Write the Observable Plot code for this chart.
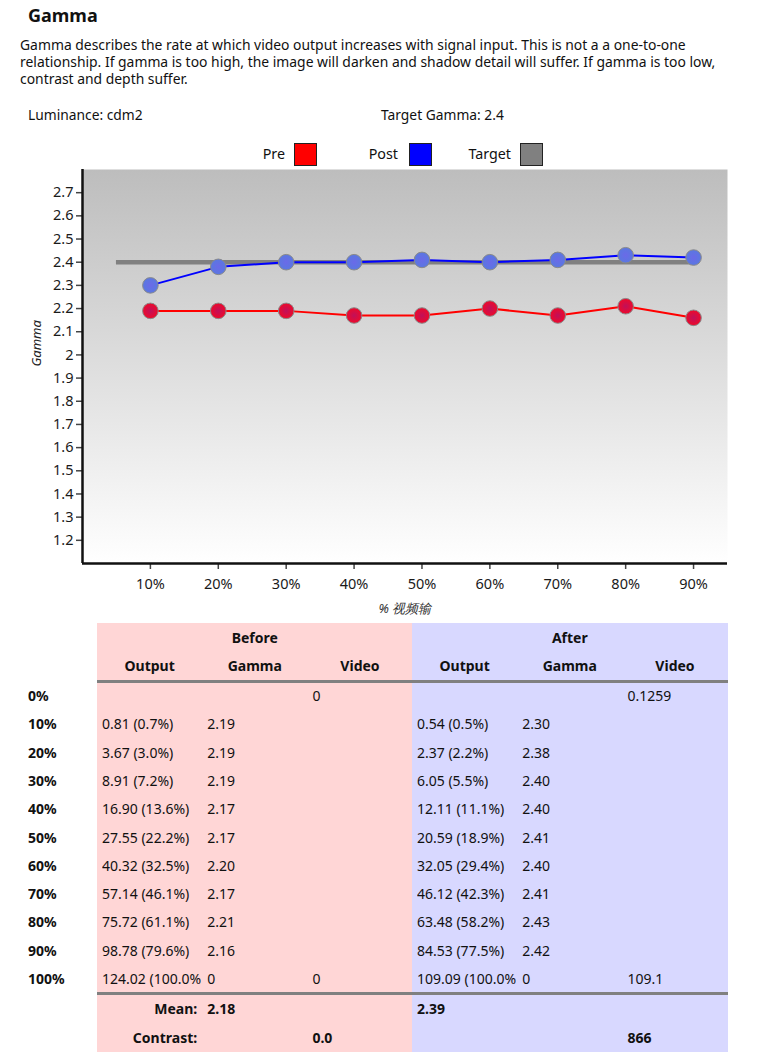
<!DOCTYPE html>
<html>
<head>
<meta charset="utf-8">
<script src="https://cdn.jsdelivr.net/npm/d3@7"></script>
<script src="https://cdn.jsdelivr.net/npm/@observablehq/plot@0.6"></script>
<style>
  html, body { margin:0; padding:0; background:#fff; }
  body { position:relative; width:757px; height:1061px; overflow:hidden; font-family:"Noto Sans", "Open Sans", sans-serif; color:#111; }
  .abs { position:absolute; white-space:nowrap; }
  .sw { position:absolute; width:21px; height:21px; border:1px solid #222; }
  .cell { position:absolute; white-space:nowrap; overflow:hidden; font-size:14px; line-height:20px; height:20px; }
  .b { font-weight:bold; }
</style>
</head>
<body>
<div class="abs b" style="left:28px; top:3px; font-size:18px;">Gamma</div>
<div class="abs" id="desc" style="left:20px; top:36px; font-size:13.9px; line-height:17px;"></div>
<div class="abs" style="left:28px; top:105px; font-size:13.8px;">Luminance: cdm2</div>
<div class="abs" style="left:381px; top:105px; font-size:13.8px;">Target Gamma: 2.4</div>
<div id="legend"></div>
<div id="chart" class="abs" style="left:0; top:160px;"></div>
<div id="table"></div>
<script>
// ---------- data ----------
const descLines = [
  "Gamma describes the rate at which video output increases with signal input. This is not a a one-to-one",
  "relationship. If gamma is too high, the image will darken and shadow detail will suffer. If gamma is too low,",
  "contrast and depth suffer."
];
const levels = [10, 20, 30, 40, 50, 60, 70, 80, 90];
const preGamma = [2.19, 2.19, 2.19, 2.17, 2.17, 2.20, 2.17, 2.21, 2.16];
const postGamma = [2.30, 2.38, 2.40, 2.40, 2.41, 2.40, 2.41, 2.43, 2.42];
const targetGamma = 2.4;
const targetSpan = [5, 90];
const yTicks = [1.2, 1.3, 1.4, 1.5, 1.6, 1.7, 1.8, 1.9, 2.0, 2.1, 2.2, 2.3, 2.4, 2.5, 2.6, 2.7];
const legendNames = ["Pre", "Post", "Target"];
const legendColors = ["#ff0000", "#0000ff", "#808080"];

const rowLabels = ["0%", "10%", "20%", "30%", "40%", "50%", "60%", "70%", "80%", "90%", "100%"];
const beforeOutput = ["", "0.81 (0.7%)", "3.67 (3.0%)", "8.91 (7.2%)", "16.90 (13.6%)", "27.55 (22.2%)", "40.32 (32.5%)", "57.14 (46.1%)", "75.72 (61.1%)", "98.78 (79.6%)", "124.02 (100.0%)"];
const beforeGamma = ["", "2.19", "2.19", "2.19", "2.17", "2.17", "2.20", "2.17", "2.21", "2.16", "0"];
const beforeVideo = ["0", "", "", "", "", "", "", "", "", "", "0"];
const afterOutput = ["", "0.54 (0.5%)", "2.37 (2.2%)", "6.05 (5.5%)", "12.11 (11.1%)", "20.59 (18.9%)", "32.05 (29.4%)", "46.12 (42.3%)", "63.48 (58.2%)", "84.53 (77.5%)", "109.09 (100.0%)"];
const afterGamma = ["", "2.30", "2.38", "2.40", "2.40", "2.41", "2.40", "2.41", "2.43", "2.42", "0"];
const afterVideo = ["0.1259", "", "", "", "", "", "", "", "", "", "109.1"];
const groupNames = ["Before", "After"];
const colNames = ["Output", "Gamma", "Video"];
const meanBefore = "2.18", meanAfter = "2.39";
const contrastBefore = "0.0", contrastAfter = "866";

// ---------- description ----------
document.getElementById("desc").innerHTML = descLines.join("<br>");

// ---------- legend ----------
const lg = document.getElementById("legend");
const legendTextRight = [285, 398, 511];
const legendSwLeft = [294, 409, 520];
legendNames.forEach((n, i) => {
  const t = document.createElement("div");
  t.className = "abs";
  t.style.cssText = `right:${757 - legendTextRight[i]}px; top:144px; font-size:14.3px;`;
  t.textContent = n;
  lg.appendChild(t);
  const s = document.createElement("div");
  s.className = "sw";
  s.style.cssText = `left:${legendSwLeft[i]}px; top:143px; background:${legendColors[i]};`;
  lg.appendChild(s);
});

// ---------- chart ----------
const preData = levels.map((x, i) => ({x, y: preGamma[i]}));
const postData = levels.map((x, i) => ({x, y: postGamma[i]}));

const chart = Plot.plot({
  width: 757,
  height: 470,
  marginLeft: 82,
  marginRight: 30,
  marginTop: 9,
  marginBottom: 67,
  style: {fontFamily: "'Noto Sans', sans-serif", fontSize: "14.5px", color: "#1a1a1a", background: "transparent"},
  x: {domain: [0, 95], ticks: levels, tickFormat: d => d + "%", tickSize: 6, tickPadding: 9, label: null},
  y: {domain: [1.1, 2.8], ticks: yTicks, tickFormat: d => String(+d.toFixed(1)), tickSize: 6, tickPadding: 3, label: null},
  marks: [
    Plot.frame({fill: "url(#bg)", stroke: "none"}),
    Plot.ruleY([targetGamma], {x1: targetSpan[0], x2: targetSpan[1], stroke: "#808080", strokeWidth: 4.5}),
    Plot.line(postData, {x: "x", y: "y", stroke: "#0000ff", strokeWidth: 2}),
    Plot.line(preData, {x: "x", y: "y", stroke: "#ff0000", strokeWidth: 2}),
    Plot.dot(postData, {x: "x", y: "y", r: 7.8, fill: "url(#gpost)", stroke: "#8a8a8a", strokeWidth: 1}),
    Plot.dot(preData, {x: "x", y: "y", r: 7.8, fill: "url(#gpre)", stroke: "#8a8a8a", strokeWidth: 1}),
    Plot.ruleX([0], {stroke: "#111", strokeWidth: 2.5}),
    Plot.ruleY([1.1], {stroke: "#111", strokeWidth: 2.5}),
    Plot.text(["Gamma"], {frameAnchor: "left", rotate: -90, dx: -46, fontStyle: "italic", fontSize: 13, fill: "#222"}),
    Plot.text(["% 视频输"], {frameAnchor: "bottom", dy: 49, fontStyle: "italic", fontSize: 13, fill: "#333"})
  ]
});
d3.select(chart).insert("defs", ":first-child").html(`
  <linearGradient id="bg" x1="0" y1="0" x2="0" y2="1">
    <stop offset="0" stop-color="#bdbdbd"/>
    <stop offset="1" stop-color="#ffffff"/>
  </linearGradient>
  <radialGradient id="gpre" cx="0.5" cy="0.5" r="0.5">
    <stop offset="0" stop-color="#c0105a"/>
    <stop offset="1" stop-color="#ee0a2a"/>
  </radialGradient>
  <radialGradient id="gpost" cx="0.5" cy="0.5" r="0.5">
    <stop offset="0" stop-color="#6a6ae8"/>
    <stop offset="1" stop-color="#5a78e0"/>
  </radialGradient>`);
d3.select(chart).selectAll("g[aria-label='x-axis tick'] path, g[aria-label='y-axis tick'] path").attr("stroke", "#444").attr("stroke-width", 1.5);
document.getElementById("chart").appendChild(chart);

// ---------- table ----------
const tb = document.getElementById("table");
function box(l, t, w, h, bg) {
  const d = document.createElement("div");
  d.style.cssText = `position:absolute; left:${l}px; top:${t}px; width:${w}px; height:${h}px; background:${bg};`;
  tb.appendChild(d);
}
function cell(text, left, cy, opts = {}) {
  const d = document.createElement("div");
  d.className = "cell" + (opts.bold ? " b" : "");
  const w = opts.width || 100;
  d.style.left = left + "px";
  d.style.top = (cy - 10) + "px";
  d.style.width = w + "px";
  if (opts.align) d.style.textAlign = opts.align;
  if (opts.size) d.style.fontSize = opts.size;
  d.textContent = text;
  tb.appendChild(d);
}
const groupLeft = [97, 412];
const colW = 105.2;
box(97, 623, 315, 429, "#ffd6d6");
box(412, 623, 316, 429, "#d8d8ff");
box(97, 680, 631, 3, "#808080");
box(97, 992, 631, 3, "#808080");

groupNames.forEach((g, gi) => {
  cell(g, groupLeft[gi], 638, {bold: true, width: 3 * colW, align: "center", size: "14px"});
  colNames.forEach((c, ci) => cell(c, groupLeft[gi] + ci * colW, 666, {bold: true, width: colW, align: "center", size: "14px"}));
});
const rowY = i => 696 + i * 28.3;
rowLabels.forEach((r, i) => {
  cell(r, 28, rowY(i), {bold: true, width: 60});
  [beforeOutput, beforeGamma, beforeVideo].forEach((arr, ci) => cell(arr[i], groupLeft[0] + ci * colW + 5, rowY(i), {width: colW - 6}));
  [afterOutput, afterGamma, afterVideo].forEach((arr, ci) => cell(arr[i], groupLeft[1] + ci * colW + 5, rowY(i), {width: colW - 6}));
});
cell("Mean:", 97, 1009, {bold: true, width: colW - 5, align: "right"});
cell(meanBefore, 97 + colW + 5, 1009, {bold: true});
cell(meanAfter, 412 + 5, 1009, {bold: true});
cell("Contrast:", 97, 1038, {bold: true, width: colW - 5, align: "right"});
cell(contrastBefore, 97 + 2 * colW + 5, 1038, {bold: true});
cell(contrastAfter, 412 + 2 * colW + 5, 1038, {bold: true});
</script>
</body>
</html>
